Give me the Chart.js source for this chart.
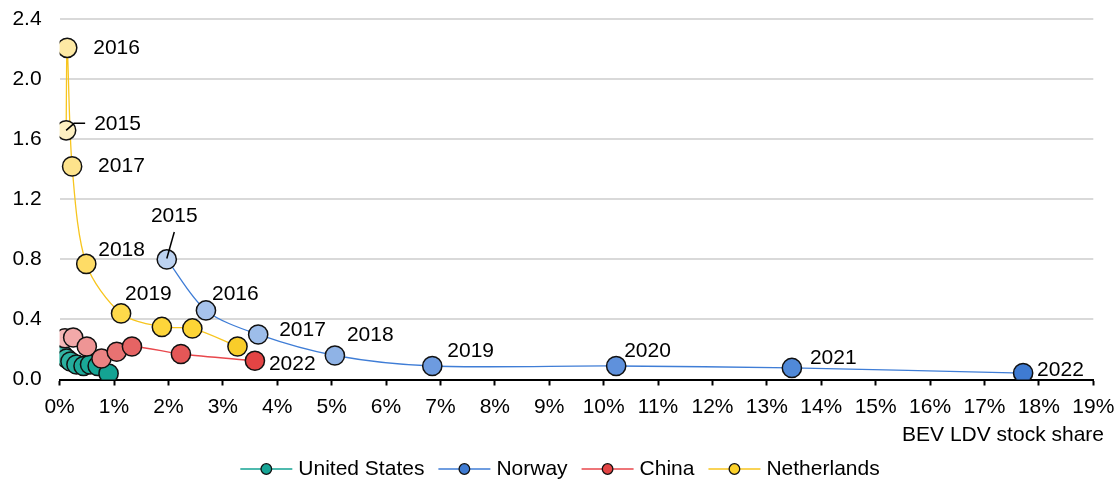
<!DOCTYPE html>
<html><head><meta charset="utf-8">
<script src="https://cdn.jsdelivr.net/npm/chart.js@4/dist/chart.umd.min.js"></script>
<style>html,body{margin:0;padding:0;background:#fff}#wrap{width:1120px;height:484px}</style>
</head><body><div id="wrap"><canvas id="c" width="1120" height="484"></canvas></div>
<script>
// ---- data ----
const years = [2015, 2016, 2017, 2018, 2019, 2020, 2021, 2022];
const seriesNames = ['United States', 'Norway', 'China', 'Netherlands'];
const usShare  = [0.07, 0.13, 0.20, 0.31, 0.44, 0.56, 0.70, 0.90];
const usRatio  = [0.16, 0.14, 0.12, 0.10, 0.09, 0.10, 0.09, 0.04];
const noShare  = [1.97, 2.69, 3.65, 5.06, 6.85, 10.23, 13.46, 17.71];
const noRatio  = [0.80, 0.46, 0.30, 0.16, 0.09, 0.09, 0.077, 0.043];
const cnShare  = [0.10, 0.25, 0.50, 0.77, 1.05, 1.33, 2.23, 3.59];
const cnRatio  = [0.275, 0.28, 0.22, 0.14, 0.185, 0.22, 0.17, 0.125];
const nlShare  = [0.12, 0.14, 0.23, 0.49, 1.13, 1.88, 2.44, 3.27];
const nlRatio  = [1.66, 2.21, 1.42, 0.77, 0.44, 0.35, 0.34, 0.22];
const xTickValues = [0,1,2,3,4,5,6,7,8,9,10,11,12,13,14,15,16,17,18,19];
const yTickValues = [0.0, 0.4, 0.8, 1.2, 1.6, 2.0, 2.4];
const xAxisTitle = 'BEV LDV stock share';

// ---- styles ----
const FONT_SIZE = 21;
const FONT_FAMILY = '"Liberation Sans", Arial, sans-serif';
const FONT = FONT_SIZE + 'px ' + FONT_FAMILY;
const styles = {
  'United States': {line:'#14a393', legend:'#17a596',
    pts:['#3bb8a8','#33b4a4','#2bb0a0','#24ad9d','#1eaa9a','#1aa897','#17a595','#14a393'], order:1},
  'Norway': {line:'#3f7dd6', legend:'#3f7bd2',
    pts:['#bcd2f0','#a7c3ec','#9dbdea','#8fb3e6','#6d9be0','#5f91dc','#5089d8','#3f7bd2'], order:2},
  'China': {line:'#e8474c', legend:'#e34444',
    pts:['#f5b8b8','#f2a9a9','#ee9595','#ea8383','#e87272','#e66464','#e45757','#e34444'], order:0},
  'Netherlands': {line:'#f7c51e', legend:'#fcd12a',
    pts:['#fdf0c2','#fde9a4','#fde38c','#fedc66','#fed94a','#fdd53a','#fdd435','#f9cd2a'], order:3}
};
// label placement (offsets from point centre, px)
const labelSpecs = {
  'Netherlands': {
    2015:{dx:28,dy:-6,leader:[[0,0],[8,-7],[19,-7]]},
    2016:{dx:26,dy:0}, 2017:{dx:26,dy:0}, 2018:{dx:12,dy:-14}, 2019:{dx:4,dy:-19}
  },
  'Norway': {
    2015:{dx:7.5,dy:-43,align:'center',leader:[[0,-1],[7.5,-27.5]]},
    2016:{dx:6,dy:-16}, 2017:{dx:21,dy:-4}, 2018:{dx:12,dy:-20}, 2019:{dx:15,dy:-15},
    2020:{dx:8,dy:-15}, 2021:{dx:18,dy:-10}, 2022:{dx:14,dy:-3}
  },
  'China': { 2022:{dx:14,dy:3} }
};

const seriesData = {
  'United States': [usShare, usRatio],
  'Norway': [noShare, noRatio],
  'China': [cnShare, cnRatio],
  'Netherlands': [nlShare, nlRatio]
};

const datasets = seriesNames.map(name => {
  const [xs, ys] = seriesData[name];
  const st = styles[name];
  return {
    label: name,
    data: years.map((yr, i) => ({x: xs[i], y: ys[i]})),
    borderColor: st.line,
    borderWidth: 1.3,
    backgroundColor: st.pts,
    pointBackgroundColor: st.pts,
    pointBorderColor: '#111',
    pointBorderWidth: 1.5,
    pointRadius: 9.6,
    pointHoverRadius: 9.6,
    tension: 0.3,
    fill: false,
    order: st.order
  };
});

const labelPlugin = {
  id: 'yearLabels',
  afterDatasetsDraw(chart) {
    const ctx = chart.ctx;
    ctx.save();
    ctx.font = FONT;
    ctx.fillStyle = '#000';
    ctx.textBaseline = 'middle';
    chart.data.datasets.forEach((ds, di) => {
      const spec = labelSpecs[ds.label];
      if (!spec) return;
      const meta = chart.getDatasetMeta(di);
      years.forEach((yr, i) => {
        const s = spec[yr];
        if (!s) return;
        const p = meta.data[i];
        if (s.leader) {
          ctx.beginPath();
          ctx.strokeStyle = '#000';
          ctx.lineWidth = 1.5;
          s.leader.forEach((pt, k) => {
            const X = p.x + pt[0], Y = p.y + pt[1];
            if (k === 0) ctx.moveTo(X, Y); else ctx.lineTo(X, Y);
          });
          ctx.stroke();
        }
        ctx.textAlign = s.align || 'left';
        ctx.fillText(String(yr), p.x + s.dx, p.y + s.dy);
      });
    });
    ctx.restore();
  },
  afterDraw(chart) {
    const ctx = chart.ctx;
    ctx.save();
    ctx.font = FONT;
    ctx.fillStyle = '#000';
    ctx.textBaseline = 'middle';
    // axis title
    ctx.textAlign = 'right';
    ctx.fillText(xAxisTitle, 1104, 435);
    // legend
    const markerW = 52, gapText = 6, gapItem = 14, ly = 469;
    const widths = seriesNames.map(n => ctx.measureText(n).width);
    let total = 0;
    widths.forEach(w => total += markerW + gapText + w);
    total += gapItem * (seriesNames.length - 1);
    let x = 560 - total / 2;
    seriesNames.forEach((n, i) => {
      const st = styles[n];
      ctx.beginPath();
      ctx.strokeStyle = st.line;
      ctx.lineWidth = 1.5;
      ctx.moveTo(x, ly); ctx.lineTo(x + markerW, ly);
      ctx.stroke();
      ctx.beginPath();
      ctx.arc(x + markerW / 2, ly, 5.3, 0, Math.PI * 2);
      ctx.fillStyle = st.legend;
      ctx.fill();
      ctx.strokeStyle = '#111';
      ctx.lineWidth = 1.3;
      ctx.stroke();
      ctx.fillStyle = '#000';
      ctx.textAlign = 'left';
      ctx.fillText(n, x + markerW + gapText, ly);
      x += markerW + gapText + widths[i] + gapItem;
    });
    ctx.restore();
  }
};

new Chart(document.getElementById('c'), {
  type: 'line',
  data: { datasets },
  plugins: [labelPlugin],
  options: {
    responsive: false,
    animation: false,
    devicePixelRatio: 1,
    layout: { padding: { top: 19.3, right: 26.7, bottom: 64.5, left: 0 } },
    plugins: { legend: { display: false }, tooltip: { enabled: false } },
    scales: {
      x: {
        type: 'linear', min: 0, max: 19,
        afterBuildTicks: s => { s.ticks = xTickValues.map(v => ({value: v})); },
        afterFit: s => { s.height = 40; s.paddingLeft = 0; s.paddingRight = 0; },
        ticks: { font: { family: FONT_FAMILY, size: FONT_SIZE }, color: '#000',
                 padding: 9, maxRotation: 0, autoSkip: false, callback: v => v + '%' },
        grid: { display: true, drawOnChartArea: false, drawTicks: true, tickLength: 6, tickWidth: 2, tickColor: '#000' },
        border: { display: true, color: '#000', width: 2 }
      },
      y: {
        type: 'linear', min: 0, max: 2.4,
        afterBuildTicks: s => { s.ticks = yTickValues.map(v => ({value: v})); },
        afterFit: s => { s.width = 59.6; s.paddingTop = 0; s.paddingBottom = 0; },
        ticks: { font: { family: FONT_FAMILY, size: FONT_SIZE }, color: '#000',
                 padding: 18, callback: v => Number(v).toFixed(1) },
        grid: { color: '#d9d9d9', lineWidth: 2, drawTicks: false },
        border: { display: false }
      }
    }
  }
});
</script>
</body></html>
